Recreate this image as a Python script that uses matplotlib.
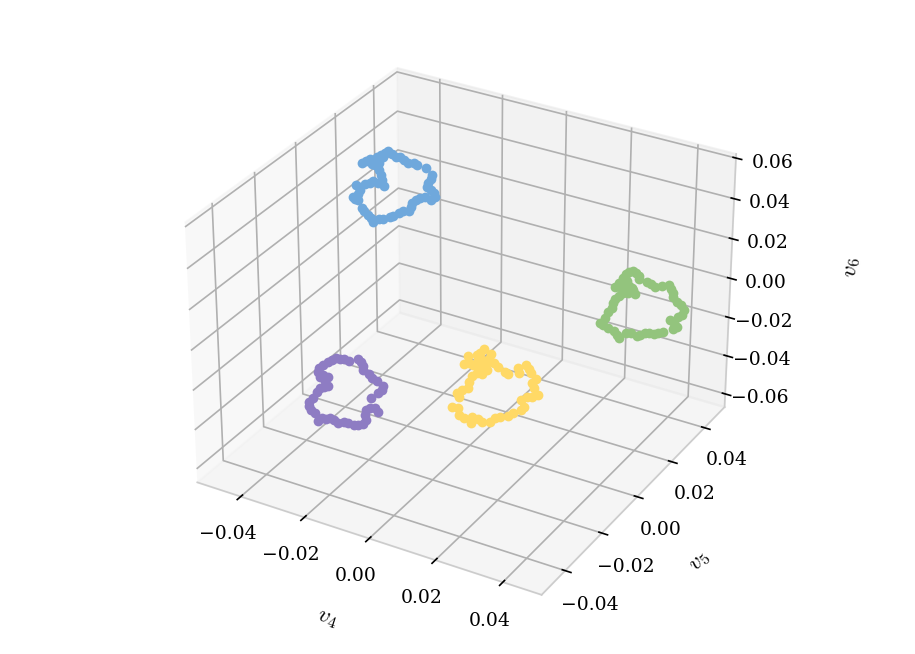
import numpy as np
import matplotlib
matplotlib.use('Agg')
import matplotlib.pyplot as plt

# values, in units of 1e-4
blue_x = np.array([-394,-380,-368,-355,-345,-334,-320,-310,-299,-286,-273,-261,-248,-230,-220,-193,-176,-179,-186,-189,
                   -179,-169,-165,-179,-197,-212,-225,-238,-242,-246,-265,-278,-297,-307,-328,-341,-360,-369,-376,-390,
                   -396,-407,-418,-423,-407,-401,-414,-403,-385,-369,-358,-343,-325,-332,-335,-339,-352,-363,-338,-328,
                   -347]) / 1e4
blue_z = np.array([502,521,533,535,553,569,586,597,588,581,583,575,568,575,566,563,538,515,496,471,
                   463,454,436,413,419,407,393,374,353,331,320,304,282,271,252,246,226,239,253,269,
                   278,314,313,324,345,367,387,379,404,417,429,429,420,446,470,493,512,512,526,560,
                   536]) / 1e4
green_x = np.array([269,279,289,297,300,324,334,348,368,389,395,403,402,416,427,437,431,421,396,409,
                    419,407,377,362,349,335,322,307,297,278,264,244,235,227,209,193,183,198,208,218,
                    220,227,240,252,267,288,280,270,252,241,226,239,251,259,277,257,263]) / 1e4
green_z = np.array([22,30,26,13,-3,-6,-13,-18,-6,11,-10,-26,-48,-63,-75,-96,-124,-141,-166,-174,
                    -189,-209,-235,-251,-262,-260,-267,-286,-296,-291,-294,-333,-320,-302,-298,-288,-284,-251,-212,-190,
                    -163,-139,-116,-97,-90,-84,-67,-51,-80,-67,-75,-51,-20,5,-59,-52,-27]) / 1e4
purple_x = np.array([-167,-157,-150,-150,-133,-122,-109,-89,-92,-105,-128,-116,-108,-131,-145,-147,-145,-153,-169,-181,
                     -200,-212,-231,-244,-257,-271,-284,-295,-305,-317,-323,-323,-308,-297,-287,-273,-262,-270,-259,-275,
                     -286,-293,-288,-274,-260,-248,-235,-222,-208,-194]) / 1e4
purple_z = np.array([-51,-63,-76,-98,-111,-123,-133,-146,-170,-193,-229,-270,-286,-281,-297,-323,-348,-374,-385,-391,
                     -392,-394,-408,-397,-392,-406,-409,-428,-394,-383,-364,-343,-316,-283,-257,-242,-232,-212,-185,-184,
                     -198,-179,-154,-134,-113,-94,-81,-78,-71,-74]) / 1e4
yellow_x = np.array([44,31,21,-7,-18,65,59,75,87,108,118,146,151,172,181,187,201,191,198,210,
                     192,175,158,168,158,134,119,93,78,63,39,26,7,3,-18,-34,-36,-55,-34,-41,
                     -26,-7,-3,5,21,36,52,44,26,10,-3,36,55,31,24]) / 1e4
yellow_z = np.array([-152,-176,-193,-211,-257,-166,-196,-205,-219,-235,-243,-199,-219,-172,-187,-205,-228,-250,-275,-303,
                     -324,-333,-355,-384,-406,-435,-457,-476,-489,-515,-527,-521,-520,-553,-538,-529,-495,-496,-437,-416,
                     -395,-377,-341,-307,-286,-282,-254,-227,-249,-249,-243,-211,-210,-261,-217]) / 1e4
blue_y = 0.01
green_y = 0.04
purple_y = -0.03
yellow_y = 0.0

xy_ticks = [-0.04, -0.02, 0.0, 0.02, 0.04]
z_ticks = [-0.06, -0.04, -0.02, 0.0, 0.02, 0.04, 0.06]

plt.rcParams['font.family'] = 'DejaVu Serif'
plt.rcParams['mathtext.fontset'] = 'cm'
plt.rcParams['font.size'] = 9

fig = plt.figure(figsize=(915/150, 654/150), dpi=150)
s = 613
ax = fig.add_axes([(457.5-s/2)/915, (654-327-s/2)/654, s/915, s/654], projection='3d')

for xs, y0, zs, col in [(blue_x, blue_y, blue_z, '#6fa8dc'),
                        (green_x, green_y, green_z, '#93c47d'),
                        (purple_x, purple_y, purple_z, '#8e7cc3'),
                        (yellow_x, yellow_y, yellow_z, '#ffd966')]:
    ax.scatter(xs, np.full(len(xs), y0), zs, color=col, s=22, linewidths=0, alpha=1, depthshade=False)

ax.set_xlim(-0.0539, 0.0513)
ax.set_ylim(-0.0525, 0.0525)
ax.set_zlim(-0.067, 0.062)
ax.set_xticks(xy_ticks)
ax.set_yticks(xy_ticks)
ax.set_zticks(z_ticks)
ax.tick_params(axis='x', pad=1.8)
ax.tick_params(axis='y', pad=2.4)
ax.tick_params(axis='z', pad=2.5)
ax.set_xlabel('$v_4$', fontsize=11, labelpad=6.5)
ax.set_ylabel('$v_5$', fontsize=11, labelpad=6.5)
ax.set_zlabel('$v_6$', fontsize=11, labelpad=15)

for axis in (ax.xaxis, ax.yaxis, ax.zaxis):
    axis.line.set_color('#cccccc')

fig.savefig('out.png', dpi=150)
